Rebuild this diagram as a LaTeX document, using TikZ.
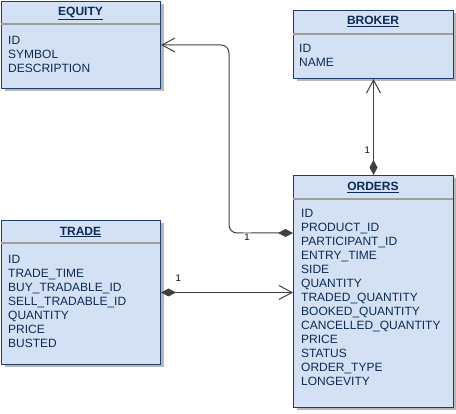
\documentclass[tikz,border=0pt]{standalone}
\usepackage{fontspec}
\setmainfont{Liberation Sans}
\usetikzlibrary{arrows.meta,shadows,positioning}

\definecolor{entityfill}{HTML}{D4E1F5}
\definecolor{entityline}{HTML}{1B3F70}
\definecolor{entitytext}{HTML}{0B2A55}

\begin{document}
\begin{tikzpicture}[x=1pt, y=-1pt]
    % Define styles
    \tikzset{
        entity/.style={
            draw=entityline,
            fill=entityfill,
            line width=1pt,
            inner sep=0pt,
            anchor=north west,
            general shadow={fill=black!28, shadow xshift=3pt, shadow yshift=-3pt}
        },
        header/.style={
            font=\fontsize{12}{14}\selectfont\bfseries,
            text=entitytext,
            anchor=base,
            inner sep=0pt
        },
        items/.style={
            font=\fontsize{12}{14}\selectfont,
            text=entitytext,
            align=left,
            anchor=base west,
            inner sep=0pt
        },
        separator/.style={
            draw=black!38,
            line width=1.2pt
        },
        rel/.style={
            draw=black!75,
            line width=1pt
        },
        card/.style={
            font=\fontsize{9.5}{10}\selectfont,
            inner sep=1pt
        }
    }

    \useasboundingbox (0,0) rectangle (456,414);

    % Entity boxes
    \node[entity, minimum width=159pt, minimum height=87pt] (equity) at (1,1) {};
    \node[entity, minimum width=160pt, minimum height=68pt] (broker) at (293,10) {};
    \node[entity, minimum width=160pt, minimum height=232pt] (orders) at (293,175) {};
    \node[entity, minimum width=159pt, minimum height=144pt] (trade) at (1,220) {};

    % Header separators
    \foreach \xa/\xb/\y in {1/160/24, 293/453/34, 293/453/199, 1/160/243}
        \draw[separator] (\xa,\y) -- (\xb,\y);

    % Headers
    \node[header] (equityhead) at (80.5,15.3) {\underline{EQUITY}};
    \node[header] (brokerhead) at (373,24.8) {\underline{BROKER}};
    \node[header] (ordershead) at (373,190.3) {\underline{ORDERS}};
    \node[header] (tradehead) at (80.5,235.3) {\underline{TRADE}};

    % Attributes (placed by the baseline of the last line)
    \node[items] (equityitems) at (8,72.3) {ID\\SYMBOL\\DESCRIPTION};
    \node[items] (brokeritems) at (299,66.3) {ID\\NAME};
    \node[items] (ordersitems) at (301,385.3) {ID\\PRODUCT\_ID\\PARTICIPANT\_ID\\ENTRY\_TIME\\SIDE\\QUANTITY\\TRADED\_QUANTITY\\BOOKED\_QUANTITY\\CANCELLED\_QUANTITY\\PRICE\\STATUS\\ORDER\_TYPE\\LONGEVITY};
    \node[items] (tradeitems) at (8,347.3) {ID\\TRADE\_TIME\\BUY\_TRADABLE\_ID\\SELL\_TRADABLE\_ID\\QUANTITY\\PRICE\\BUSTED};

    % Relations
    \draw[rel, {Diamond[length=15pt,width=8pt]}-{Straight Barb[length=13pt,width=14pt]}]
        (orders.north) -- node[card, pos=0.26, left=2pt] {1} (broker.south);
    \draw[rel, rounded corners=8pt, {Diamond[length=15pt,width=8pt]}-{Straight Barb[length=13pt,width=14pt]}]
        ([yshift=-58pt]orders.north west) -| node[card, pos=0.36, fill=white, yshift=-4pt] {1}
        ([xshift=68pt]equity.east) -- (equity.east);
    \draw[rel, {Diamond[length=15pt,width=8pt]}-{Straight Barb[length=13pt,width=14pt]}]
        (trade.east) -- node[card, pos=0.13, above=9pt] {1} (trade.east -| orders.west);

\end{tikzpicture}
\end{document}
